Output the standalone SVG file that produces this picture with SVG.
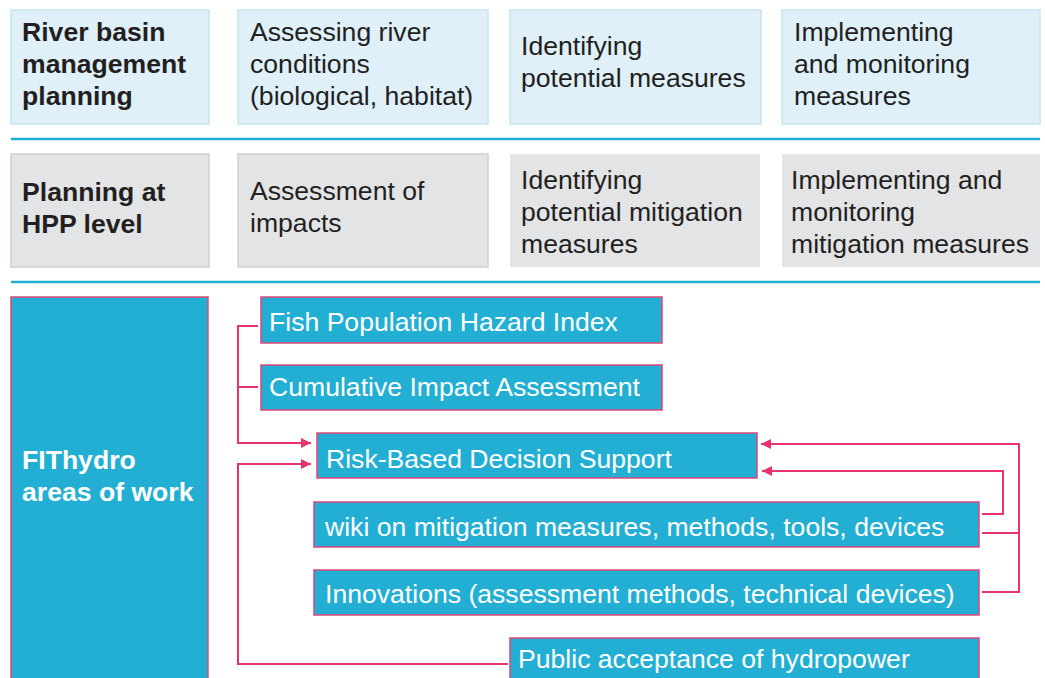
<svg xmlns="http://www.w3.org/2000/svg" width="1045" height="678" viewBox="0 0 1045 678">
<style>
text{font-family:"Liberation Sans",Arial,sans-serif;font-size:26.6px;fill:#231f20}
.b{font-weight:bold}
.w{fill:#ffffff}
.r1{fill:#dff0f9;stroke:#c6e4f1;stroke-width:1.5}
.r2{fill:#e3e4e6;stroke:#cfd0d3;stroke-width:1.5}
.r2n{fill:#e3e4e6}
.bl{fill:#23afd3;stroke:#e0457a;stroke-width:1.5}
.sep{stroke:#23afd3;stroke-width:2.5}
.c{fill:none;stroke:#e8336f;stroke-width:2}
</style>
<defs>
<marker id="ah" viewBox="0 0 10 10" refX="10" refY="5" markerWidth="10" markerHeight="10" markerUnits="userSpaceOnUse" orient="auto">
<path d="M0,0 L10,5 L0,10 z" fill="#e8336f"/>
</marker>
</defs>
<rect width="1045" height="678" fill="#ffffff"/>
<line class="sep" x1="11" y1="139" x2="1040" y2="139"/>
<line class="sep" x1="11" y1="282" x2="1040" y2="282"/>
<g id="rbmp"><rect class="r1" x="11" y="10" width="198" height="114"/>
<text class="b" x="22" y="41">River basin</text><text class="b" x="22" y="73">management</text><text class="b" x="22" y="105">planning</text></g>
<g id="assess-river"><rect class="r1" x="238" y="10" width="250" height="114"/>
<text x="250" y="41">Assessing river</text><text x="250" y="73">conditions</text><text x="250" y="105">(biological, habitat)</text></g>
<g id="ident-measures"><rect class="r1" x="510" y="10" width="251" height="114"/>
<text x="521" y="55">Identifying</text><text x="521" y="87">potential measures</text></g>
<g id="impl-measures"><rect class="r1" x="782" y="10" width="258" height="114"/>
<text x="794" y="41">Implementing</text><text x="794" y="73">and monitoring</text><text x="794" y="105">measures</text></g>
<g id="hpp"><rect class="r2" x="11" y="154" width="198" height="113"/>
<text class="b" x="22" y="201">Planning at</text><text class="b" x="22" y="233">HPP level</text></g>
<g id="assess-impacts"><rect class="r2" x="238" y="154" width="250" height="113"/>
<text x="250" y="200">Assessment of</text><text x="250" y="232">impacts</text></g>
<g id="ident-mitig"><rect class="r2n" x="510" y="154" width="250" height="113"/>
<text x="521" y="189">Identifying</text><text x="521" y="221">potential mitigation</text><text x="521" y="253">measures</text></g>
<g id="impl-mitig"><rect class="r2n" x="782" y="154" width="258" height="113"/>
<text x="791" y="189">Implementing and</text><text x="791" y="221">monitoring</text><text x="791" y="253">mitigation measures</text></g>
<g id="fithydro"><rect class="bl" x="11" y="297" width="197" height="390"/>
<text class="b w" x="22" y="469">FIThydro</text><text class="b w" x="22" y="501">areas of work</text></g>
<g id="fphi"><rect class="bl" x="261" y="297" width="401" height="46"/><text class="w" x="269" y="331">Fish Population Hazard Index</text></g>
<g id="cia"><rect class="bl" x="261" y="365" width="401" height="45"/><text class="w" x="269" y="396">Cumulative Impact Assessment</text></g>
<g id="rbds"><rect class="bl" x="317" y="433" width="440" height="45"/><text class="w" x="326" y="468">Risk-Based Decision Support</text></g>
<g id="wiki"><rect class="bl" x="314" y="502" width="665" height="45"/><text class="w" x="325" y="536">wiki on mitigation measures, methods, tools, devices</text></g>
<g id="innov"><rect class="bl" x="314" y="570" width="665" height="45"/><text class="w" x="325" y="603">Innovations (assessment methods, technical devices)</text></g>
<g id="public"><rect class="bl" x="510" y="638" width="469" height="50"/><text class="w" x="518" y="668">Public acceptance of hydropower</text></g>
<g id="connectors">
<path class="c" d="M258,326 H238 V443 H311" marker-end="url(#ah)"/>
<path class="c" d="M258,387 H238"/>
<path class="c" d="M508,664 H238 V464 H311" marker-end="url(#ah)"/>
<path class="c" d="M982,514 H1003 V471 H762" marker-end="url(#ah)"/>
<path class="c" d="M982,592 H1019 V444 H761" marker-end="url(#ah)"/>
<path class="c" d="M982,533 H1019"/>
</g>
</svg>
